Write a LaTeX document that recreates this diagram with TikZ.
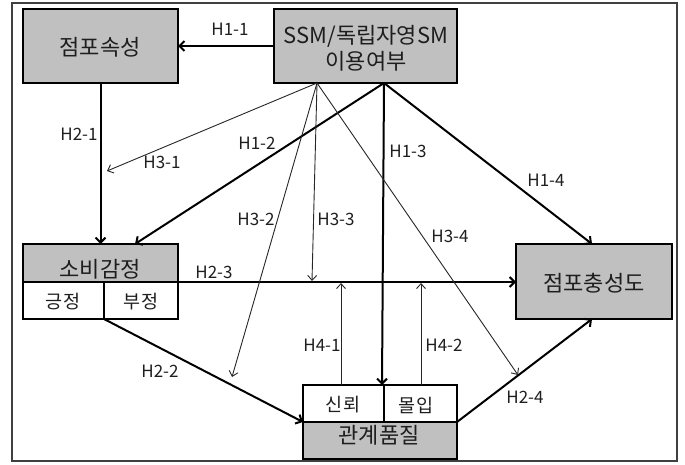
\documentclass[tikz,border=0pt]{standalone}
\usepackage{fontspec}
\setmainfont{Noto Sans CJK KR}
\usetikzlibrary{arrows.meta,calc}
\definecolor{boxgray}{HTML}{C0C0C0}
\definecolor{ink}{HTML}{1E1E1E}
\begin{document}
\begin{tikzpicture}[x=1pt,y=-1pt,
  frame/.style={draw=black!75, line width=1.5pt},
  gbox/.style={draw=black, line width=2pt, fill=boxgray, outer sep=0pt, inner sep=0pt, anchor=north west},
  wbox/.style={draw=black, line width=2pt, fill=white, outer sep=0pt, inner sep=0pt, anchor=north west},
  title/.style={text=ink, inner sep=0pt, font=\fontsize{22}{26}\selectfont, align=center},
  sub/.style={text=ink, inner sep=0pt, font=\fontsize{18.5}{22}\selectfont},
  lab/.style={text=ink, inner sep=0pt, font=\fontsize{17}{20}\selectfont},
  thickarr/.style={draw=black, line width=2pt, -{Straight Barb[length=5pt,width=10pt]}},
  thinarr/.style={draw=black!85, line width=0.9pt, -{Straight Barb[length=5pt,width=9pt]}}
]
\useasboundingbox (0,0) rectangle (685,465);
\draw[frame] (12,3) rectangle (677,461);

% boxes
\node[gbox, minimum width=155pt, minimum height=74pt] (jp) at (23,9) {};
\node[gbox, minimum width=183pt, minimum height=74pt] (ssm) at (274,9) {};
\node[gbox, minimum width=155pt, minimum height=38pt] (sb) at (23,244) {};
\node[wbox, minimum width=81pt, minimum height=37pt] (pos) at (23,282) {};
\node[wbox, minimum width=74pt, minimum height=37pt] (neg) at (104,282) {};
\node[gbox, minimum width=156pt, minimum height=75pt] (jc) at (516,244) {};
\node[wbox, minimum width=81pt, minimum height=37pt] (trust) at (303,385) {};
\node[wbox, minimum width=73pt, minimum height=37pt] (comm) at (384,385) {};
\node[gbox, minimum width=154pt, minimum height=37pt] (gq) at (303,422) {};

% box texts
\node[title] (tjp) at (100,47) {점포속성};
\node[title] (tssm) at (366,48) {SSM/독립자영SM\\이용여부};
\node[title] (tsb) at (100,269) {소비감정};
\node[sub] (tpos) at (63,302) {긍정};
\node[sub] (tneg) at (141,302) {부정};
\node[title] (tjc) at (594,283) {점포충성도};
\node[sub] (ttrust) at (343,405) {신뢰};
\node[sub] (tcomm) at (416,405) {몰입};
\node[title] (tgq) at (379,435) {관계품질};

% free ends
\coordinate (A) at ($(ssm.south west)+(43,0)$);
\coordinate (B) at ($(ssm.south west)+(110,0)$);
\coordinate (c31) at (107,171);
\coordinate (c32) at (232,377);
\coordinate (c33) at (312,281);
\coordinate (c34) at (518,375);
\coordinate (c41) at (341,283);
\coordinate (c42) at (421,283);

% thick connectors
\draw[thickarr] (ssm.west) -- (jp.east);
\draw[thickarr] (jp.south) -- (sb.north);
\draw[thickarr] (B) -- ($(sb.north west)+(112,0)$);
\draw[thickarr] (B) -- ($(trust.north east)+(-2,0)$);
\draw[thickarr] (B) -- ($(jc.north west)+(76,0)$);
\draw[thickarr] (sb.south east) -- (sb.south east -| jc.west);
\draw[thickarr] (neg.south west) -- (gq.north west);
\draw[thickarr] (gq.north east) -- ($(jc.south west)+(76,0)$);

% thin connectors
\draw[thinarr] (A) -- (c31);
\draw[thinarr] (A) -- (c32);
\draw[thinarr] (A) -- (c33);
\draw[thinarr] (A) -- (c34);
\draw[thinarr] ($(trust.north west)+(38,0)$) -- (c41);
\draw[thinarr] ($(comm.north west)+(37,0)$) -- (c42);

% labels
\node[lab] (l11) at (230,29) {H1-1};
\node[lab] (l21) at (79,134) {H2-1};
\node[lab] (l31) at (162,162) {H3-1};
\node[lab] (l12) at (257,143) {H1-2};
\node[lab] (l13) at (408,151) {H1-3};
\node[lab] (l14) at (546,180) {H1-4};
\node[lab] (l32) at (256,219) {H3-2};
\node[lab] (l33) at (336,219) {H3-3};
\node[lab] (l34) at (450,236) {H3-4};
\node[lab] (l23) at (214,272) {H2-3};
\node[lab] (l41) at (322,345) {H4-1};
\node[lab] (l42) at (444,345) {H4-2};
\node[lab] (l22) at (160,371) {H2-2};
\node[lab] (l24) at (525,397) {H2-4};
\end{tikzpicture}
\end{document}
